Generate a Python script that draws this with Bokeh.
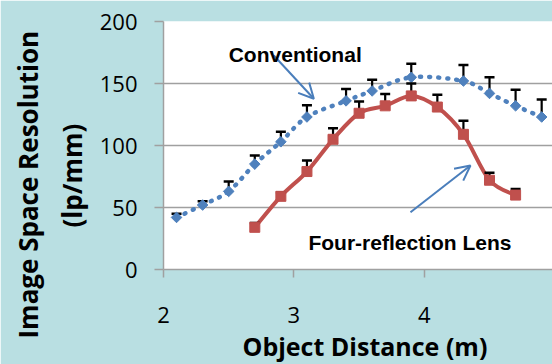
import numpy as np
from bokeh.plotting import figure
from bokeh.models import Range1d, FixedTicker, Label, Arrow, OpenHead, Title
from bokeh.embed import file_html
from bokeh.resources import INLINE

# ---- data ----
conv_x = [2.1, 2.3, 2.5, 2.7, 2.9, 3.1, 3.4, 3.6, 3.9, 4.3, 4.5, 4.7, 4.9]
conv_y = [42, 52, 63, 85, 103, 123, 136, 144, 155, 152, 142, 132, 123]
conv_err = [3, 3, 8, 7, 8, 9.5, 9.5, 9, 11, 13, 13, 13, 14]

four_x = [2.7, 2.9, 3.1, 3.3, 3.5, 3.7, 3.9, 4.1, 4.3, 4.5, 4.7]
four_y = [34, 59, 79, 105, 126, 132, 140, 131, 109, 72, 60]
four_err = [3.5, 3, 9, 9, 9.5, 9.5, 10, 10, 11, 6, 5]

x_ticks = [2, 3, 4, 5]
y_ticks = [0, 50, 100, 150, 200]

x_title = "Object Distance (m)"
y_title_1 = "Image Space Resolution"
y_title_2 = "(lp/mm)"
conv_name = "Conventional"
four_name = "Four-reflection Lens"

# annotation anchors (data units)
conv_label_pos = (3.01, 173)
four_label_pos = (3.89, 22)
conv_arrow = (2.846, 172.6, 3.153, 137.7)
four_arrow = (3.894, 46.2, 4.354, 83.9)

BLUE = "#4F81BD"
RED = "#C0504D"
ARROW = "#4A7EBB"
BG = "#B9DFE2"
GRID = "#A0A0A0"
TICK_FONT = "Open Sans"
TITLE_FONT = "Open Sans"
NOTE_FONT = "Liberation Sans"


def smooth(xs, ys):
    """Catmull-Rom style cubic bezier segments through the data points."""
    x = np.asarray(xs, float)
    y = np.asarray(ys, float)
    n = len(x)
    xp = np.concatenate([[x[0]], x, [x[-1]]])
    yp = np.concatenate([[y[0]], y, [y[-1]]])
    cx0 = x[:-1] + (xp[2:n + 1] - xp[0:n - 1]) / 6.0
    cy0 = y[:-1] + (yp[2:n + 1] - yp[0:n - 1]) / 6.0
    cx1 = x[1:] - (xp[3:n + 2] - xp[1:n]) / 6.0
    cy1 = y[1:] - (yp[3:n + 2] - yp[1:n]) / 6.0
    return dict(x0=x[:-1], y0=y[:-1], x1=x[1:], y1=y[1:],
                cx0=cx0, cy0=cy0, cx1=cx1, cy1=cy1)


p = figure(width=552, height=364,
           x_range=Range1d(2, 4.983), y_range=Range1d(0, 200),
           output_backend="svg", toolbar_location=None,
           min_border_left=163, min_border_right=0,
           min_border_top=21, min_border_bottom=95)

p.border_fill_color = BG
p.background_fill_color = "white"
p.outline_line_color = None

p.xgrid.grid_line_color = None
p.ygrid.grid_line_color = GRID
p.ygrid.grid_line_width = 1.5

p.xaxis.ticker = FixedTicker(ticks=x_ticks)
p.yaxis.ticker = FixedTicker(ticks=y_ticks)
for ax in (p.xaxis, p.yaxis):
    ax.axis_line_color = GRID
    ax.axis_line_width = 1.5
    ax.major_tick_line_color = GRID
    ax.major_tick_line_width = 1.5
    ax.major_tick_in = 0
    ax.minor_tick_line_color = None
    ax.major_label_text_font = TICK_FONT
    ax.major_label_text_font_size = "22px"
    ax.major_label_text_color = "black"
p.yaxis.major_tick_out = 9
p.yaxis.major_label_standoff = 17
p.xaxis.major_tick_out = 8
p.xaxis.major_label_standoff = 29

# ---- Conventional: dotted smooth line ----
sc = smooth(conv_x, conv_y)
p.bezier(line_color=BLUE, line_width=4.5, line_dash="1 8", line_cap="round", **sc)
conv_top = [v + e for v, e in zip(conv_y, conv_err)]
p.segment(x0=conv_x, y0=conv_y, x1=conv_x, y1=conv_top, line_color="black", line_width=2.2)
p.scatter(conv_x, conv_top, marker="dash", size=10, line_color="black", line_width=2.5)
p.scatter(conv_x, conv_y, marker="square", angle=np.pi / 4, size=7.5,
          fill_color=BLUE, line_color=BLUE)

# ---- Four-reflection lens: solid smooth line ----
sf = smooth(four_x, four_y)
p.bezier(line_color=RED, line_width=4, **sf)
four_top = [v + e for v, e in zip(four_y, four_err)]
p.segment(x0=four_x, y0=four_y, x1=four_x, y1=four_top, line_color="black", line_width=2.2)
p.scatter(four_x, four_top, marker="dash", size=10, line_color="black", line_width=2.5)
p.scatter(four_x, four_y, marker="square", size=10, fill_color=RED, line_color=RED)

# ---- annotations ----
for (xs, ys, xe, ye) in (conv_arrow, four_arrow):
    p.add_layout(Arrow(end=OpenHead(size=15, line_color=ARROW, line_width=2),
                       x_start=xs, y_start=ys, x_end=xe, y_end=ye,
                       line_color=ARROW, line_width=2))

p.add_layout(Label(x=conv_label_pos[0], y=conv_label_pos[1], text=conv_name,
                   text_align="center", text_baseline="alphabetic",
                   text_font=NOTE_FONT, text_font_style="bold",
                   text_font_size="21px", text_color="black"))
p.add_layout(Label(x=four_label_pos[0], y=four_label_pos[1], text=four_name,
                   text_align="center", text_baseline="alphabetic",
                   text_font=NOTE_FONT, text_font_style="bold",
                   text_font_size="21px", text_color="black"))

# ---- axis titles as side-panel titles ----
p.add_layout(Title(text=x_title, align="left", offset=79, standoff=3,
                   vertical_align="bottom",
                   text_font=TITLE_FONT, text_font_style="bold",
                   text_font_size="25px", text_color="black"), "below")
p.add_layout(Title(text=y_title_2, align="left", offset=42, standoff=13,
                   text_font=TITLE_FONT, text_font_style="bold",
                   text_font_size="26px", text_color="black"), "left")
p.add_layout(Title(text=y_title_1, align="left", offset=-69, standoff=0,
                   text_font=TITLE_FONT, text_font_style="bold",
                   text_font_size="26px", text_color="black"), "left")

# partially visible last tick label at the right edge
p.add_layout(Label(x=x_ticks[-1], y=-45, y_units="screen", text=str(x_ticks[-1]),
                   text_align="center", text_baseline="middle",
                   text_font=TICK_FONT, text_font_size="22px", text_color="black"))

open("out.html", "w").write(file_html(p, INLINE))
